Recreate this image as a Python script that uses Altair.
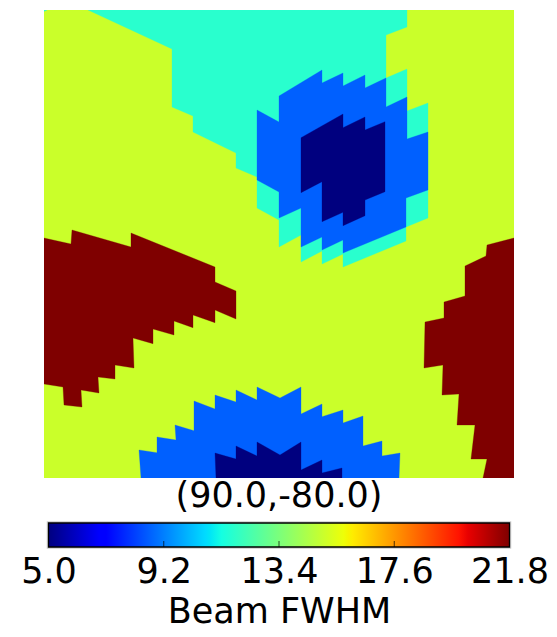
import altair as alt
import pandas as pd

# Colours of the five levels seen in the map
LIME = "#caff2a"
TEAL = "#29ffce"
BLUE = "#0060ff"
NAVY = "#00007f"
MAROON = "#7f0000"

base_x = [44, 514, 514, 44]
base_y = [10, 10, 478, 478]

teal_x = [88, 172, 172, 193, 193, 236, 236, 257, 257, 279, 279, 301, 301, 322, 322, 343, 343, 406, 406, 428, 428, 407, 407, 386, 386, 407, 407]
teal_y = [10, 49, 107, 116, 132, 153, 168, 177, 208, 220, 247, 235, 262, 251, 264, 254, 267, 241, 227, 218, 103, 111, 69, 78, 35, 27, 10]

corner_x = [44, 47, 44]
corner_y = [10, 10, 11.5]

blue_x = [257, 279, 279, 322, 322, 343, 343, 365, 365, 386, 386, 407, 407, 428, 428, 406, 406, 343, 343, 322, 322, 301, 301, 279, 279, 257]
blue_y = [110, 122, 96, 70, 83, 73, 86, 75, 88, 78, 107, 97, 139, 132, 190, 198, 227, 253, 240, 250, 237, 247, 208, 218, 192, 180]

navy_x = [301, 343, 343, 365, 365, 385, 385, 365, 365, 343, 343, 322, 322, 301]
navy_y = [137.7, 114, 127.7, 117, 130, 121.7, 191.7, 200, 215.7, 225.7, 212.3, 221.7, 181.7, 192.7]

low_blue_x = [141, 139, 157, 157, 176, 175, 194, 194, 215, 215, 236, 236, 257, 257, 280, 301, 301, 322, 322, 343, 343, 363, 363, 382, 382, 400, 399]
low_blue_y = [478, 450, 452.7, 437, 440, 425, 430.7, 401, 409, 395, 402, 390, 400, 387, 398, 387, 414, 404, 416.7, 410, 423, 416, 446, 441, 456, 453, 478]

low_navy_x = [216, 215, 236, 236, 257, 257, 280, 301, 301, 322, 322, 342, 342]
low_navy_y = [478, 453, 459, 446, 456, 442, 455, 442, 470, 460, 473, 468, 478]

left_red_x = [44, 71, 72, 131, 131, 215, 215, 236, 236, 215, 215, 193, 193, 174, 174, 153, 153, 133, 134, 115, 115, 98, 99, 81, 82, 64, 63, 44]
left_red_y = [238, 244, 230, 247, 233, 267, 282, 291, 319, 310, 322.7, 315, 327.7, 321, 335, 329, 343.7, 338, 368, 365, 379, 377, 393, 390, 407, 405, 387, 384]

right_red_x = [514, 487, 486, 465, 465, 444, 444, 425, 424, 443, 442, 459, 457, 475, 471, 487, 483, 514]
right_red_y = [238, 245, 256, 266, 296, 302, 318, 322, 368, 365, 395, 394, 425, 425, 459, 459, 478, 478]

regions = [
    ("lime", LIME, base_x, base_y),
    ("teal", TEAL, teal_x, teal_y),
    ("corner", TEAL, corner_x, corner_y),
    ("blue", BLUE, blue_x, blue_y),
    ("navy", NAVY, navy_x, navy_y),
    ("low_blue", BLUE, low_blue_x, low_blue_y),
    ("low_navy", NAVY, low_navy_x, low_navy_y),
    ("left_red", MAROON, left_red_x, left_red_y),
    ("right_red", MAROON, right_red_x, right_red_y),
]

x_scale = alt.Scale(domain=[44, 514], nice=False, zero=False)
y_scale = alt.Scale(domain=[478, 10], nice=False, zero=False)

layers = []
for name, colour, xs, ys in regions:
    df = pd.DataFrame({"px": xs, "py": ys, "i": range(len(xs))})
    layers.append(
        alt.Chart(df)
        .mark_line(fill=colour, stroke=colour, strokeWidth=0.3, interpolate="linear-closed", clip=True)
        .encode(
            x=alt.X("px:Q", scale=x_scale, axis=None),
            y=alt.Y("py:Q", scale=y_scale, axis=None),
            order=alt.Order("i:Q"),
        )
    )

FONT = "DejaVu Sans"

beam = alt.layer(*layers).properties(
    width=470,
    height=468,
    title=alt.TitleParams(
        "(90.0,-80.0)", orient="bottom", anchor="middle", font=FONT,
        fontSize=35, fontWeight="normal", color="black", offset=1,
    ),
)

# Colour bar
cbar_min = 5.0
cbar_max = 21.8
tick_values = [5.0, 9.2, 13.4, 17.6, 21.8]
inner_ticks = [9.2, 13.4, 17.6]
jet_offsets = [0, 0.11, 0.125, 0.34, 0.35, 0.375, 0.64, 0.65, 0.66, 0.89, 0.91, 1]
jet_colours = ["#00007f", "#0000ff", "#0000ff", "#00dbff", "#00e5f7", "#14ffe2",
               "#eeff08", "#f6f600", "#ffec00", "#ff1300", "#e80000", "#7f0000"]

cb_scale = alt.Scale(domain=[cbar_min, cbar_max], nice=False, zero=False)
cb_df = pd.DataFrame({"a": [cbar_min], "b": [cbar_max]})
CB_H = 24

gradient = alt.Gradient(
    gradient="linear", x1=0, x2=1, y1=0, y2=0,
    stops=[alt.GradientStop(offset=o, color=c) for o, c in zip(jet_offsets, jet_colours)],
)

halo = alt.Chart(cb_df).mark_rect(fill="white", stroke="#cccccc", strokeWidth=3.5).encode(
    x=alt.X("a:Q", scale=cb_scale, axis=alt.Axis(
        values=tick_values, format=".1f", tickSize=0, domain=False, grid=False,
        labelFont=FONT, labelFontSize=35, labelColor="black", labelPadding=7,
        labelOverlap=False, labelBound=False, labelFlush=False,
        title="Beam FWHM", titleFont=FONT, titleFontSize=35, titleFontWeight="normal",
        titleColor="black", titlePadding=5,
    )),
    x2="b:Q",
    y=alt.value(0),
    y2=alt.value(CB_H),
)
bar = alt.Chart(cb_df).mark_rect(fill=gradient, stroke="black", strokeWidth=1.3).encode(
    x=alt.X("a:Q", scale=cb_scale), x2="b:Q", y=alt.value(0), y2=alt.value(CB_H),
)
ticks = alt.Chart(pd.DataFrame({"t": inner_ticks})).mark_rule(color="black", strokeWidth=0.7).encode(
    x=alt.X("t:Q", scale=cb_scale), y=alt.value(CB_H - 6), y2=alt.value(CB_H),
)
colorbar = alt.layer(halo, bar, ticks).properties(width=461, height=CB_H)

chart = (
    alt.vconcat(beam, colorbar, spacing=45, center=True, bounds="flush")
    .resolve_scale(x="independent", y="independent")
    .properties(padding={"left": 12, "top": 2, "right": 0, "bottom": 0})
    .configure_view(stroke=None)
)
chart.save("out.html", embed_options={"renderer": "svg", "actions": False})
